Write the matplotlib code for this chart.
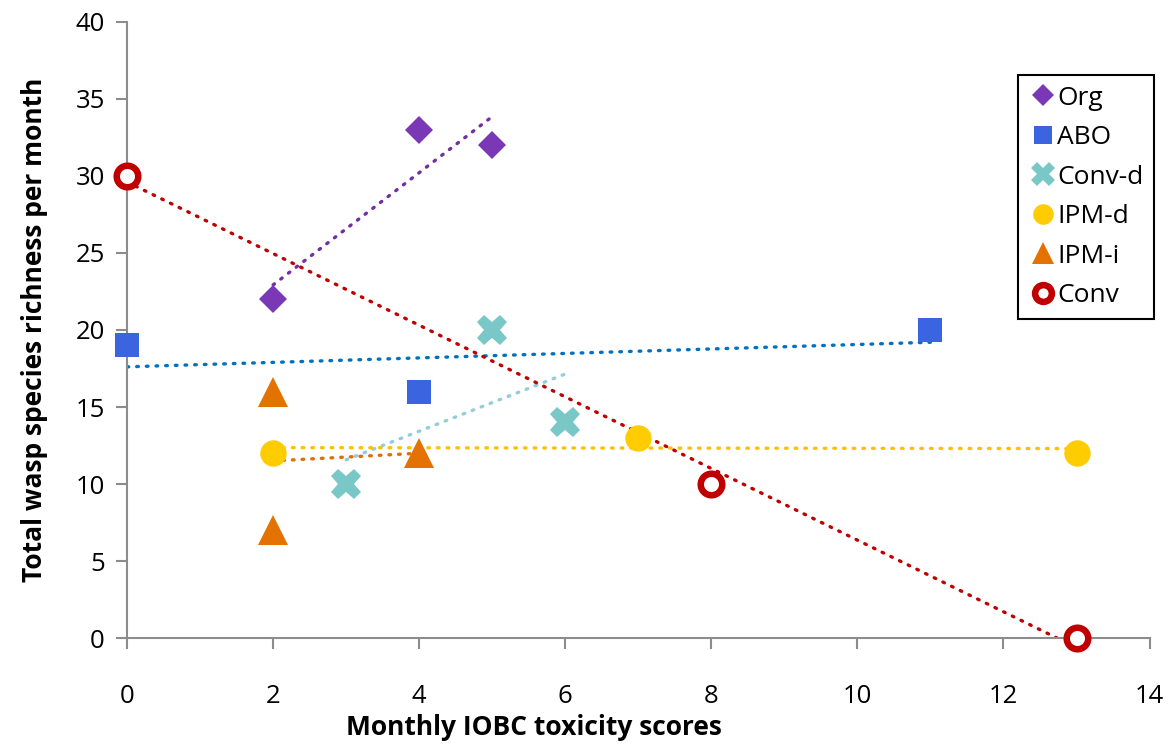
import matplotlib
matplotlib.use("Agg")
import matplotlib.pyplot as plt
import numpy as np

plt.rcParams['font.family'] = ['Open Sans', 'DejaVu Sans']

series = ["Org", "ABO", "Conv-d", "IPM-d", "IPM-i", "Conv"]
x_vals = {
    "Org": [2, 4, 5],
    "ABO": [0, 4, 11],
    "Conv-d": [3, 5, 6],
    "IPM-d": [2, 7, 13],
    "IPM-i": [2, 2, 4],
    "Conv": [0, 8, 13],
}
y_vals = {
    "Org": [22, 33, 32],
    "ABO": [19, 16, 20],
    "Conv-d": [10, 20, 14],
    "IPM-d": [12, 13, 12],
    "IPM-i": [16, 7, 12],
    "Conv": [30, 10, 0],
}
marker_colors = {
    "Org": "#7B38B6",
    "ABO": "#3A64E0",
    "Conv-d": "#7AC7C7",
    "IPM-d": "#FFCC00",
    "IPM-i": "#E37200",
    "Conv": "#C00000",
}
trend_colors = {
    "Org": "#7030A0",
    "ABO": "#0070C0",
    "Conv-d": "#92CDDC",
    "IPM-d": "#FFC000",
    "IPM-i": "#E36C09",
    "Conv": "#C00000",
}
markers = {"Org": "D", "ABO": "s", "Conv-d": "X", "IPM-d": "o", "IPM-i": "^", "Conv": "o"}
msizes = {"Org": 14.5, "ABO": 17, "Conv-d": 22, "IPM-d": 19, "IPM-i": 21, "Conv": 15.5}

fig = plt.figure(figsize=(11.73, 7.45), dpi=100)
ax = fig.add_axes([0.1083, 0.1436, 0.8717, 0.8269])

# trend lines (least squares over data range)
for s in series:
    xs = np.array(x_vals[s], float)
    ys = np.array(y_vals[s], float)
    m, b = np.polyfit(xs, ys, 1)
    xx = np.array([xs.min(), xs.max()])
    ax.plot(xx, m * xx + b, color=trend_colors[s], lw=2.4,
            linestyle=(0, (0.5, 2.4)), dash_capstyle='round', zorder=2)

for s in series:
    if s == "Conv":
        ax.plot(x_vals[s], y_vals[s], linestyle='none', marker='o', ms=msizes[s],
                markerfacecolor='white', markeredgecolor=marker_colors[s],
                markeredgewidth=4.7, label=s, zorder=3, clip_on=False)
    else:
        ax.plot(x_vals[s], y_vals[s], linestyle='none', marker=markers[s], ms=msizes[s],
                color=marker_colors[s], markeredgewidth=0, label=s, zorder=3, clip_on=False)

ax.set_xlim(0, 14)
ax.set_ylim(0, 40)
ax.set_xticks(np.arange(0, 15, 2))
ax.set_yticks(np.arange(0, 41, 5))
for sp in ['top', 'right']:
    ax.spines[sp].set_visible(False)
for sp in ['left', 'bottom']:
    ax.spines[sp].set_color('#8C8C8C')
    ax.spines[sp].set_linewidth(1.5)
ax.tick_params(axis='both', colors='#8C8C8C', width=1.5, length=8, labelsize=18.5,
               labelcolor='black')
ax.tick_params(axis='x', pad=25)
ax.tick_params(axis='y', pad=8)

ax.set_xlabel("Monthly IOBC toxicity scores", fontsize=19, fontweight='bold')
ax.xaxis.set_label_coords(0.398, -0.124)
ax.set_ylabel("Total wasp species richness per month", fontsize=19, fontweight='bold', labelpad=20)

leg = ax.legend(loc='upper left', bbox_to_anchor=(0.871, 0.914), fontsize=19,
                frameon=True, fancybox=False, edgecolor='black', framealpha=1,
                handletextpad=0.0, labelspacing=0.55, borderpad=0.4, handlelength=1.1,
                markerscale=0.78, borderaxespad=0)
leg.get_frame().set_linewidth(1.5)

fig.savefig("out.png", dpi=100)
